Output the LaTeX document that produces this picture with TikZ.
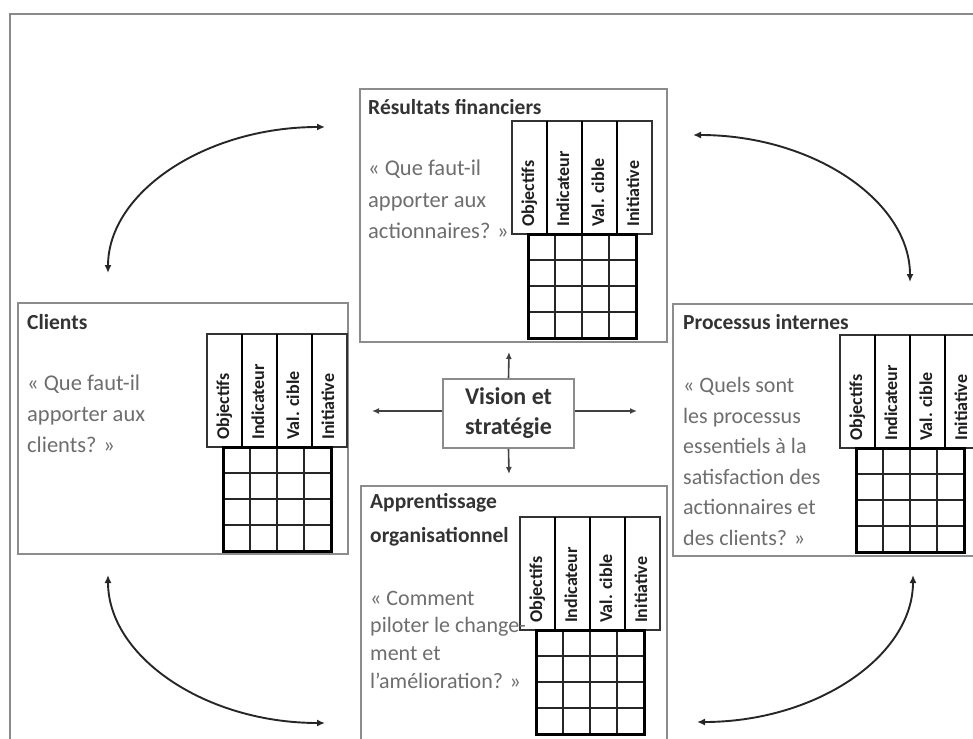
\documentclass[tikz,border=0pt]{standalone}
\usepackage{fontspec}
\setmainfont{Carlito}
\usetikzlibrary{arrows.meta}

\definecolor{framegray}{HTML}{8A8A8A}
\definecolor{panelgray}{HTML}{8C8C8C}
\definecolor{titlecol}{HTML}{333333}
\definecolor{quotecol}{HTML}{6E6E6E}
\definecolor{labcol}{HTML}{1E1E1E}

% Balanced-scorecard table: header with rotated labels and a 4x4 grid.
% #1,#2 = top-left corner of the header, #3 = name prefix
\newcommand\scorecard[3]{%
  \begin{scope}[shift={(#1,#2)}]
    \draw[hdr] (0,0) rectangle (140,113);
    \foreach \i in {1,2,3} \draw[hdrdiv] (35*\i,0) -- (35*\i,113);
    \foreach \t [count=\i from 0] in {Objectifs,Indicateur,Val. cible,Initiative}
      \node[lab] (#3lab\i) at (35*\i+17.5,106) {\t};
    \fill[white] (16,113) rectangle (124,217);
    \foreach \i in {1,2,3} \draw[gridin] (16+27*\i,113) -- (16+27*\i,217);
    \foreach \j in {1,2,3} \draw[gridin] (16,113+26*\j) -- (124,113+26*\j);
    \draw[gridout] (16,113) rectangle (124,217);
  \end{scope}}

\begin{document}
\begin{tikzpicture}[x=1pt,y=-1pt,
  frame/.style={draw=framegray, line width=2.5pt},
  panel/.style={draw=panelgray, line width=1.6pt, fill=white, inner sep=0pt,
    anchor=north west},
  hdr/.style={draw=black!80, line width=1.1pt, fill=white},
  hdrdiv/.style={draw=black, line width=1.6pt},
  gridin/.style={draw=black!85, line width=1.3pt},
  gridout/.style={draw=black, line width=3pt},
  lab/.style={rotate=90, anchor=west, inner sep=0pt, text=labcol,
    font=\fontsize{18}{20}\selectfont\bfseries, text height=13pt, text depth=4pt},
  ptitle/.style={anchor=west, inner sep=0pt, text=titlecol, align=left,
    font=\fontsize{21.5}{34}\selectfont\bfseries},
  qtext/.style={anchor=west, inner sep=0pt, text=quotecol, align=left},
  visbox/.style={draw=panelgray, line width=2pt, fill=white, align=center,
    minimum width=131pt, minimum height=69pt, inner sep=0pt, text=titlecol,
    font=\fontsize{24}{30}\selectfont\bfseries},
  dbl/.style={{Latex[length=8pt,width=7pt]}-{Latex[length=8pt,width=7pt]},
    line width=1.9pt, draw=black!85},
  vout/.style={-{Latex[length=7pt,width=6pt]}, line width=1.6pt, draw=black!75}]

\useasboundingbox (0,0) rectangle (973,738);
\clip (0,0) rectangle (973,738);

% outer frame
\draw[frame] (10,745) -- (10,14) -- (980,14);

% the four perspective panels
\node[panel, minimum width=307pt, minimum height=253pt] (fin) at (359,88) {};
\node[panel, minimum width=330pt, minimum height=251pt] (cli) at (17,302) {};
\node[panel, minimum width=320pt, minimum height=252pt] (pro) at (672,303) {};
\node[panel, minimum width=306pt, minimum height=280pt] (app) at (360,485) {};

% tables
\scorecard{512}{121}{fin}
\scorecard{207}{334}{cli}
\scorecard{840}{335}{pro}
\scorecard{520}{517}{app}

% titles
\node[ptitle] (fint) at (368,107) {Résultats financiers};
\node[ptitle] (clit) at (27,322) {Clients};
\node[ptitle] (prot) at (683,322) {Processus internes};
\node[ptitle] (appt) at (370,520) {Apprentissage\\organisationnel};

% questions
\node[qtext, font=\fontsize{22.5}{31.5}\selectfont] (finq) at (368,199.5)
  {« Que faut-il\\apporter aux\\actionnaires? »};
\node[qtext, font=\fontsize{22.5}{31}\selectfont] (cliq) at (27,414)
  {« Que faut-il\\apporter aux\\clients? »};
\node[qtext, font=\fontsize{22}{30.6}\selectfont] (proq) at (683,461.5)
  {« Quels sont\\les processus\\essentiels à la\\satisfaction des\\actionnaires et\\des clients? »};
\node[qtext, font=\fontsize{22}{27.7}\selectfont] (appq) at (370,639.5)
  {« Comment\\piloter le change-\\ment et\\l'amélioration? »};

% centre
\node[visbox] (vis) at (508.5,413.5) {Vision et\\stratégie};

\coordinate (vUp) at (509,352);
\coordinate (vDown) at (509,474);
\coordinate (vLeft) at (372,411);
\coordinate (vRight) at (637,411);
\draw[vout] (vis.north) -- (vUp);
\draw[vout] (vis.south) -- (vDown);
\draw[vout] (vis.west |- vLeft) -- (vLeft);
\draw[vout] (vis.east |- vRight) -- (vRight);

% curved links between neighbouring perspectives
\coordinate (tlA) at (108,273);
\coordinate (tlB) at (325,127);
\coordinate (trA) at (693,135);
\coordinate (trB) at (910,282);
\coordinate (blA) at (108,575);
\coordinate (blB) at (325,723);
\coordinate (brA) at (913,575);
\coordinate (brB) at (697,722);

\draw[dbl] (tlA) .. controls +(0,-80.6) and +(-119.8,0) .. (tlB);
\draw[dbl] (trA) .. controls +(119.8,0) and +(0,-81.2) .. (trB);
\draw[dbl] (blA) .. controls +(0,81.7) and +(-119.8,0) .. (blB);
\draw[dbl] (brA) .. controls +(0,81.2) and +(119.3,0) .. (brB);

\end{tikzpicture}
\end{document}
